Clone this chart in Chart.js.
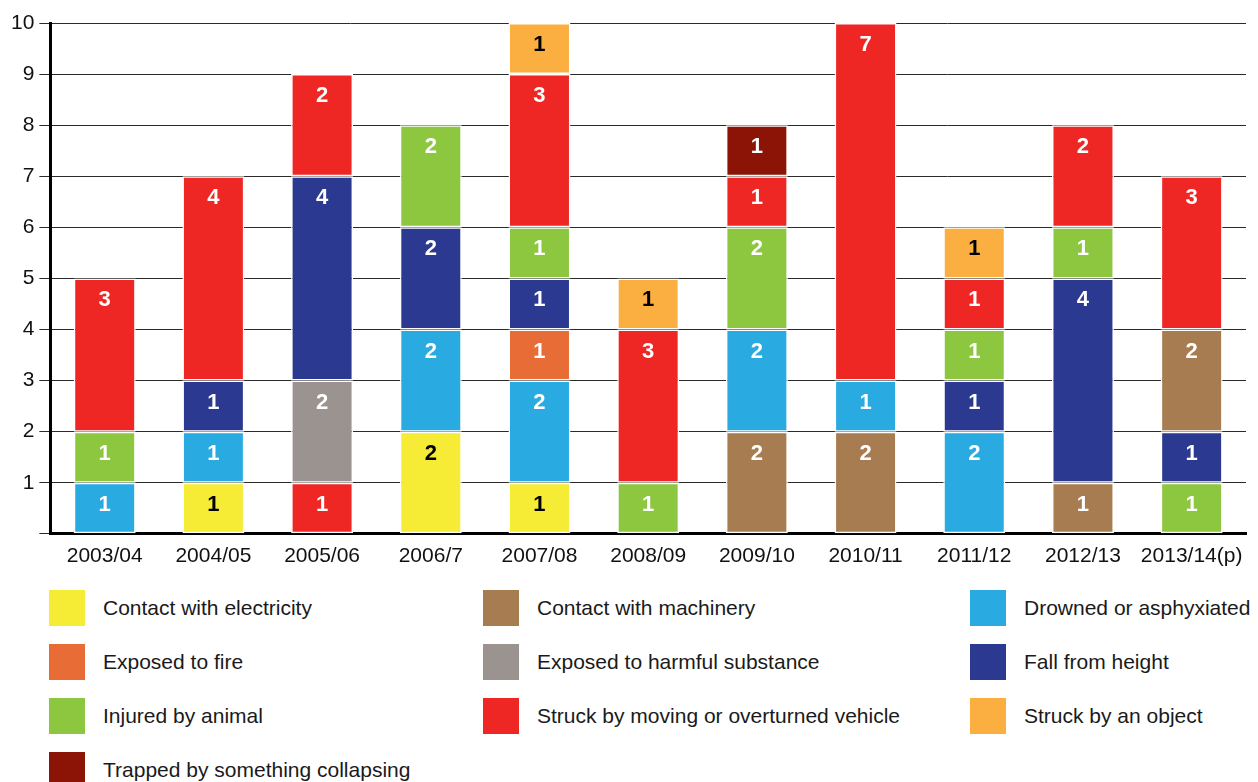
<!DOCTYPE html>
<html>
<head>
<meta charset="utf-8">
<script src="https://cdn.jsdelivr.net/npm/chart.js@4/dist/chart.umd.min.js"></script>
<style>
    body { margin: 0; background: #fff; font-family: "Liberation Sans", Arial, Helvetica, sans-serif; }
    #wrap { position: relative; width: 1258px; height: 782px; }
    #chartBox { position: absolute; left: 0; top: 0; width: 1258px; height: 580px; }
    .legend-item { position: absolute; height: 36px; display: flex; align-items: center; }
    .legend-item .sw { width: 36px; height: 36px; margin-right: 18px; }
    .legend-item span { font-size: 21px; color: #1a1a1a; white-space: nowrap; }
</style>
</head>
<body>
<div id="wrap">
    <div id="chartBox"><canvas id="myChart"></canvas></div>
    <div id="legend"></div>
</div>
<script>
const years = ['2003/04', '2004/05', '2005/06', '2006/7', '2007/08', '2008/09', '2009/10', '2010/11', '2011/12', '2012/13', '2013/14(p)'];

const categories = [
    'Contact with electricity',
    'Contact with machinery',
    'Drowned or asphyxiated',
    'Exposed to fire',
    'Exposed to harmful substance',
    'Fall from height',
    'Injured by animal',
    'Struck by moving or overturned vehicle',
    'Struck by an object',
    'Trapped by something collapsing'
];

const colours = ['#f6eb35', '#a77c50', '#29abe2', '#e86c35', '#9a9390', '#2b3990', '#8dc63f', '#ee2724', '#fbaf41', '#8b1406'];

// dark numbers on the light colours
const darkText = [0, 8];

// each bar from bottom to top: [category index, count]
const stacks = [
    [[2, 1], [6, 1], [7, 3]],
    [[0, 1], [2, 1], [5, 1], [7, 4]],
    [[7, 1], [4, 2], [5, 4], [7, 2]],
    [[0, 2], [2, 2], [5, 2], [6, 2]],
    [[0, 1], [2, 2], [3, 1], [5, 1], [6, 1], [7, 3], [8, 1]],
    [[6, 1], [7, 3], [8, 1]],
    [[1, 2], [2, 2], [6, 2], [7, 1], [9, 1]],
    [[1, 2], [2, 1], [7, 7]],
    [[2, 2], [5, 1], [6, 1], [7, 1], [8, 1]],
    [[1, 1], [5, 4], [6, 1], [7, 2]],
    [[6, 1], [5, 1], [1, 2], [7, 3]]
];

const yTicks = [0, 1, 2, 3, 4, 5, 6, 7, 8, 9, 10];

const fontFamily = '"Liberation Sans", Arial, Helvetica, sans-serif';

function buildDatasets() {
    const layers = Math.max(...stacks.map(s => s.length));
    const datasets = [];
    for (let i = 0; i < layers; i++) {
        datasets.push({
            label: 'layer ' + i,
            data: stacks.map(s => s[i] ? s[i][1] : null),
            cats: stacks.map(s => s[i] ? s[i][0] : null),
            backgroundColor: stacks.map(s => s[i] ? colours[s[i][0]] : 'transparent'),
            borderColor: '#ffffff',
            borderWidth: 1.5,
            borderSkipped: false,
            barPercentage: 0.57,
            categoryPercentage: 1
        });
    }
    return datasets;
}

const segmentLabels = {
    id: 'segmentLabels',
    afterDatasetsDraw(chart) {
        const ctx = chart.ctx;
        ctx.save();
        ctx.font = 'bold 22px ' + fontFamily;
        ctx.textAlign = 'center';
        ctx.textBaseline = 'middle';
        chart.data.datasets.forEach((ds, di) => {
            const meta = chart.getDatasetMeta(di);
            meta.data.forEach((bar, i) => {
                const v = ds.data[i];
                if (v === null) return;
                const cat = ds.cats[i];
                ctx.fillStyle = darkText.includes(cat) ? '#000000' : '#ffffff';
                ctx.fillText(String(v), bar.x, bar.y + 22);
            });
        });
        ctx.restore();
    }
};

const chart = new Chart(document.getElementById('myChart'), {
    type: 'bar',
    data: {
        labels: years,
        datasets: buildDatasets()
    },
    options: {
        responsive: true,
        maintainAspectRatio: false,
        animation: false,
        layout: {
            padding: { top: 23, left: 6, right: 12, bottom: 9 }
        },
        plugins: {
            legend: { display: false },
            tooltip: { enabled: false }
        },
        scales: {
            x: {
                stacked: true,
                grid: { display: false },
                border: { display: true, color: '#000000', width: 3 },
                ticks: {
                    color: '#111111',
                    font: { family: fontFamily, size: 21 },
                    padding: 2,
                    maxRotation: 0,
                    autoSkip: false
                }
            },
            y: {
                stacked: true,
                min: yTicks[0],
                max: yTicks[yTicks.length - 1],
                afterBuildTicks: (scale) => {
                    scale.ticks = yTicks.map(v => ({ value: v }));
                },
                grid: {
                    color: '#2a2a2a',
                    lineWidth: 1,
                    tickLength: 11,
                    drawTicks: true
                },
                border: { display: true, color: '#000000', width: 3 },
                ticks: {
                    color: '#111111',
                    font: { family: fontFamily, size: 21 },
                    padding: 5,
                    callback: (v) => v === 0 ? '' : String(v)
                }
            }
        }
    },
    plugins: [segmentLabels]
});

function buildLegend() {
    const legend = document.getElementById('legend');
    const colLeft = [49, 483, 970];
    const rowTop = [590, 644, 698, 752];
    categories.forEach((name, i) => {
        const item = document.createElement('div');
        item.className = 'legend-item';
        item.style.left = colLeft[i % 3] + 'px';
        item.style.top = rowTop[Math.floor(i / 3)] + 'px';
        const sw = document.createElement('div');
        sw.className = 'sw';
        sw.style.background = colours[i];
        const label = document.createElement('span');
        label.textContent = name;
        item.appendChild(sw);
        item.appendChild(label);
        legend.appendChild(item);
    });
}

buildLegend();
</script>
</body>
</html>
